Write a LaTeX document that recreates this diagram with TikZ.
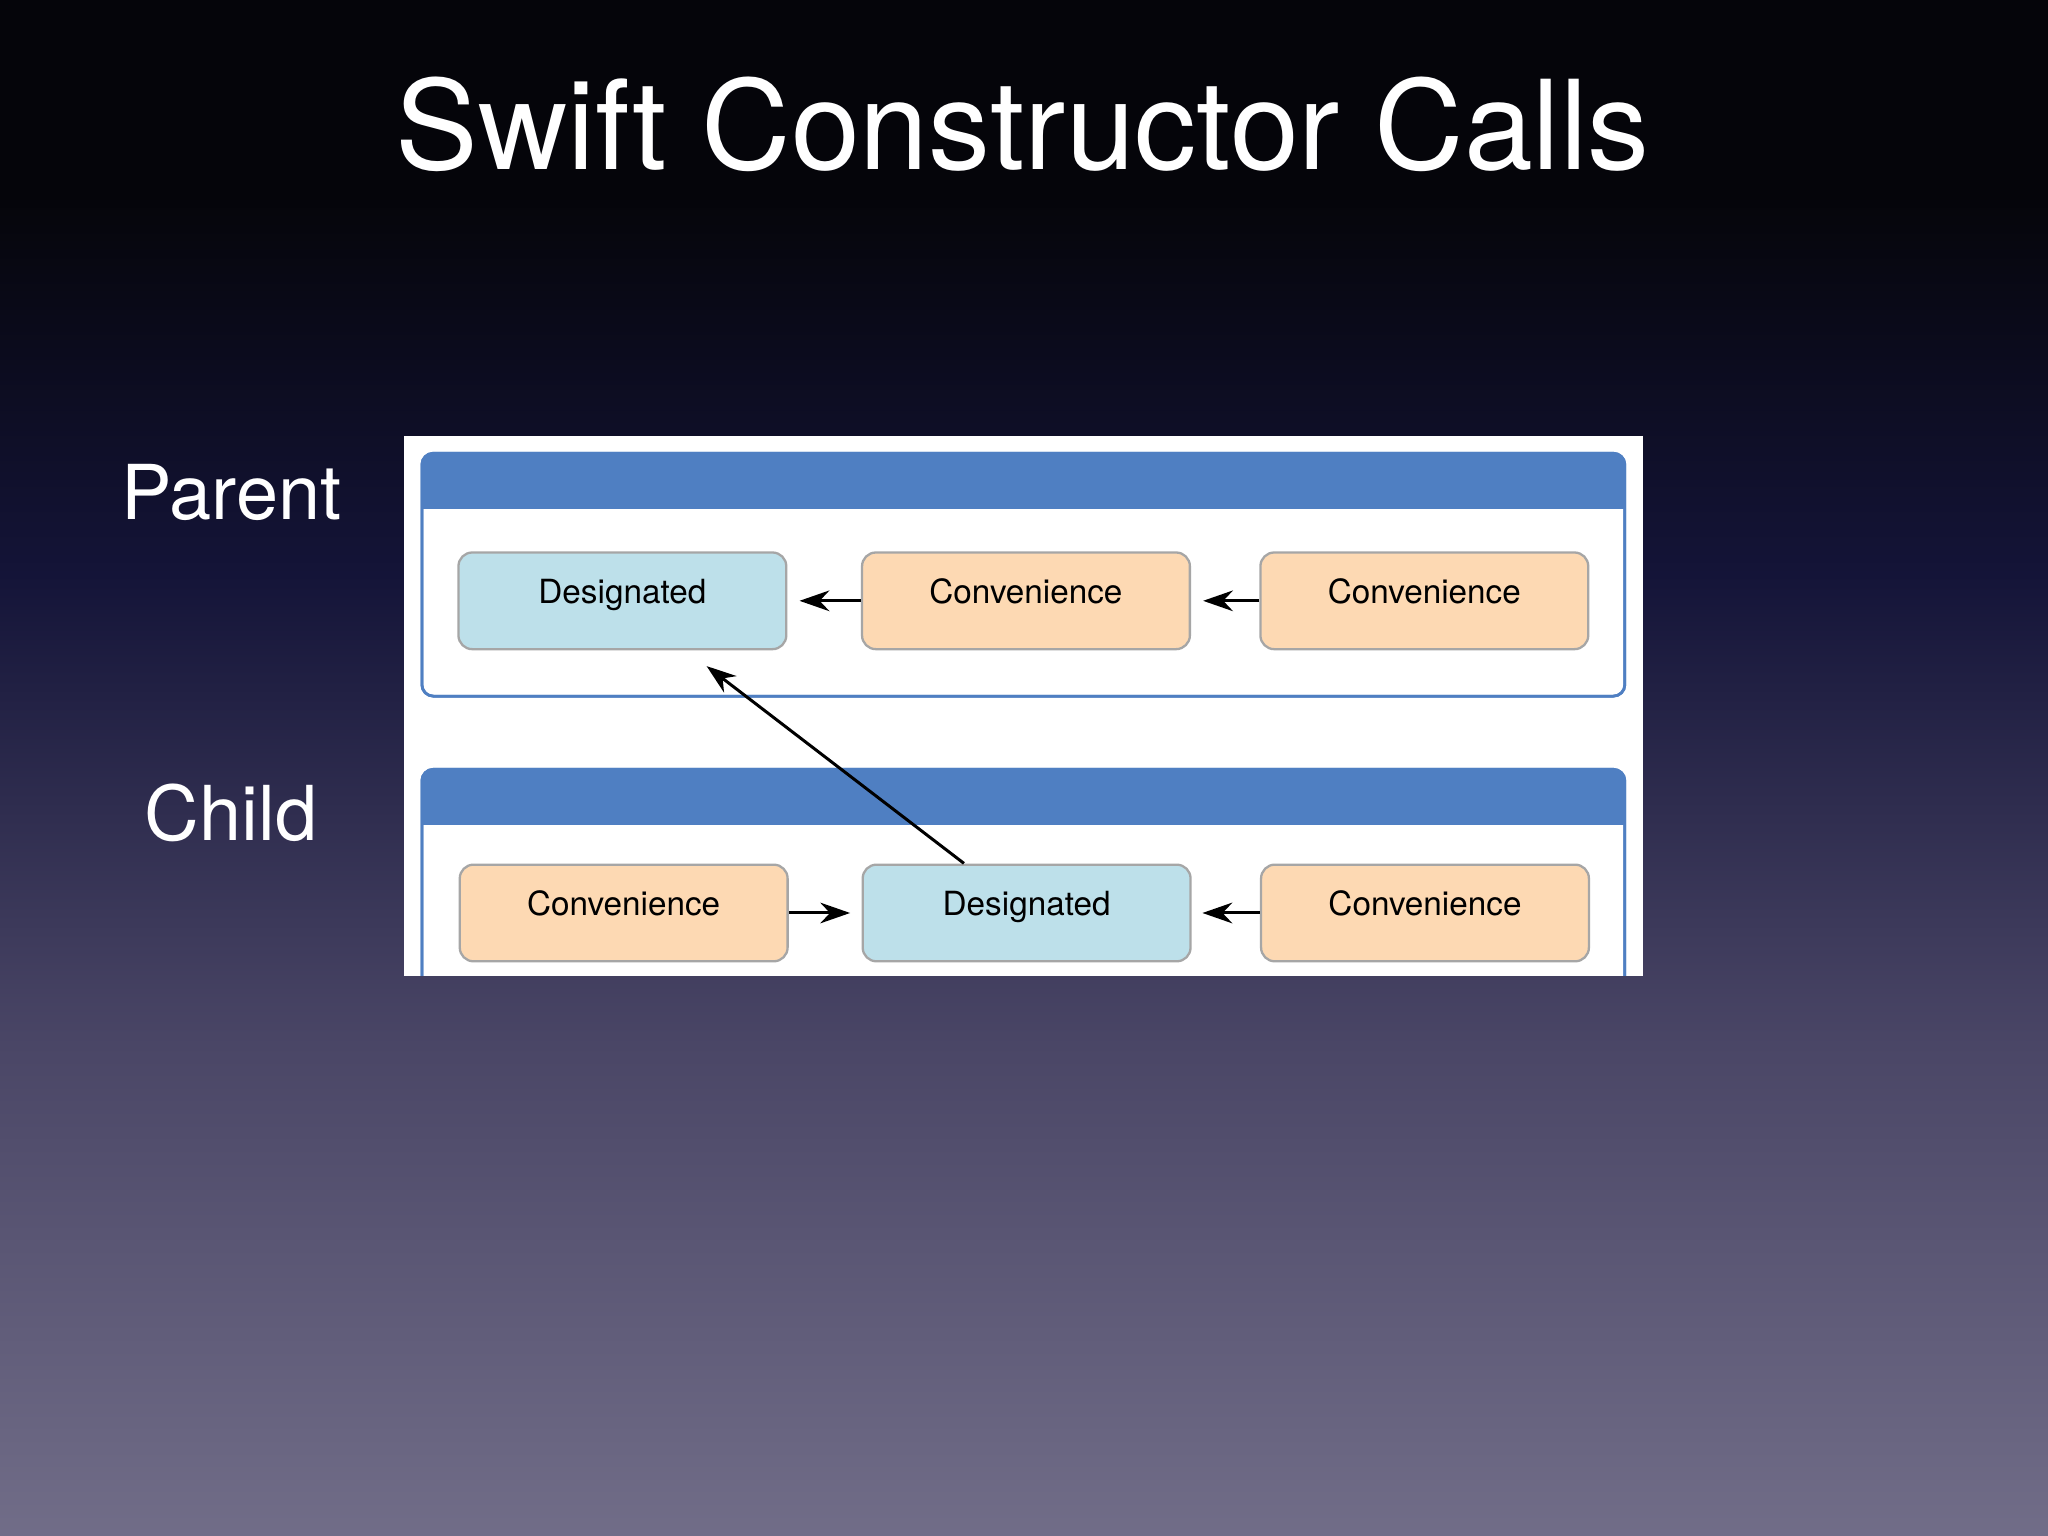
\documentclass[tikz,border=0pt]{standalone}
\usepackage{fontspec}
\setmainfont{TeX Gyre Heros}
\usetikzlibrary{arrows.meta}
\definecolor{hdr}{HTML}{4F7FC2}
\definecolor{bluebox}{HTML}{BDE0EA}
\definecolor{orbox}{HTML}{FDD9B3}
\definecolor{bgtop}{HTML}{05050A}
\definecolor{bgmid}{HTML}{141438}
\definecolor{bglow}{HTML}{4A4666}
\definecolor{bgbot}{HTML}{716D88}
\tikzset{
  panel/.style={draw=hdr,line width=1.2pt,rounded corners=5pt,fill=white},
  ibox/.style={draw=gray!70,line width=1pt,rounded corners=6pt,minimum width=251*0.02cm,minimum height=74*0.02cm,font=\fontsize{14.5}{17}\selectfont,inner sep=0pt,text height=1.6ex,text depth=1.2ex},
  dbox/.style={ibox,fill=bluebox},
  cbox/.style={ibox,fill=orbox},
  arr/.style={-{Stealth[length=13pt,width=9pt]},line width=1.3pt,black},
  lbl/.style={text=white,font=\fontsize{33}{38}\selectfont}
}
\begin{document}
\begin{tikzpicture}[x=0.02cm,y=-0.02cm]
\useasboundingbox (0,0) rectangle (1568,1176);
\fill[bgtop] (0,0) rectangle (1568,150);
\fill[top color=bgtop,bottom color=bgmid] (0,149.5) rectangle (1568,440);
\fill[top color=bgmid,bottom color=bglow] (0,439.5) rectangle (1568,800);
\fill[top color=bglow,bottom color=bgbot] (0,799.5) rectangle (1568,1176);
\node[text=white,font=\fontsize{54}{60}\selectfont] (title) at (783,95) {Swift Constructor Calls};
\node[lbl] (parent) at (177,377) {Parent};
\node[lbl] (child) at (177,622) {Child};
\fill[white] (309,334) rectangle (1258,747);
\begin{scope}
\clip (309,334) rectangle (1258,747);
\draw[panel] (323,347) rectangle (1244,533);
\begin{scope}
\clip[rounded corners=5pt] (323,347) rectangle (1244,533);
\fill[hdr] (323,347) rectangle (1244,390);
\end{scope}
\draw[hdr,line width=1.2pt,rounded corners=5pt] (323,347) rectangle (1244,533);
\draw[panel] (323,589) rectangle (1244,800);
\begin{scope}
\clip[rounded corners=5pt] (323,589) rectangle (1244,800);
\fill[hdr] (323,589) rectangle (1244,632);
\end{scope}
\draw[hdr,line width=1.2pt,rounded corners=5pt] (323,589) rectangle (1244,800);
\node[dbox] (pd) at (476.5,460) {Designated};
\node[cbox] (pc1) at (785.5,460) {Convenience};
\node[cbox] (pc2) at (1090.5,460) {Convenience};
\node[cbox] (cc1) at (477.5,699) {Convenience};
\node[dbox] (cd) at (786,699) {Designated};
\node[cbox] (cc2) at (1091,699) {Convenience};
\draw[arr] (pc1.west) -- ++(-47,0);
\draw[arr] (pc2.west) -- ++(-43,0);
\draw[arr] (cc1.east) -- ++(47,0);
\draw[arr] (cc2.west) -- ++(-44,0);
\coordinate (dtop) at (738,661);
\coordinate (dtip) at (541,510);
\draw[arr] (dtop) -- (dtip);
\end{scope}
\end{tikzpicture}
\end{document}
